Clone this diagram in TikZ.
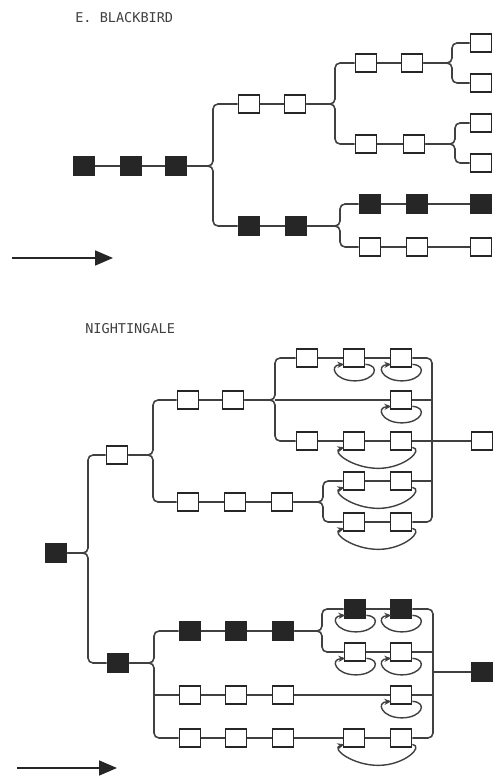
\documentclass[tikz,border=0pt]{standalone}
\usepackage{fontspec}
\newfontfamily\plotfont{DejaVu Sans Mono}
\usetikzlibrary{arrows.meta}
% repeat loops under one square, and back loops over two squares
\newcommand{\selfloop}[1]{\draw [loopline] ([yshift=2pt]#1.south east) .. controls +(16,1) and +(20,0) .. ++(-10.5,16.5) .. controls +(-20,0) and +(-16,1) .. ++(-10.5,-16.5);}
\newcommand{\backloop}[2]{\draw [loopline] ([yshift=2pt]#2.south east) .. controls +(12,2) and +(26,0) .. ++(-34,21) .. controls +(-26,0) and +(-14,4) .. ++(-34,-21);}

\begin{document}
\begin{tikzpicture}[
    % GLOBAL CFG
    x=0.02cm, y=-0.02cm,
    >=LaTeX,
    % Styles
    sq/.style={% For open squares
        rectangle,
        draw=black!85,
        line width=1pt,
        minimum width=0.42cm,
        minimum height=0.36cm,
        inner sep=0pt,
        fill=white,
    },
    sqfill/.style={% For filled squares
        sq,
        fill=black!85,
    },
    wire/.style={% Lines with rounded corners
        draw=black!75,
        line width=0.9pt,
        rounded corners=0.1cm,
    },
    loopline/.style={% Loops with small tips
        draw=black!75,
        line width=0.8pt,
        -{Stealth[length=4pt,width=3.5pt]},
    },
    timearrow/.style={
        draw=black!85,
        line width=1pt,
        -{Triangle[length=0.36cm,width=0.3cm]},
    },
    mylabel/.style={
        font=\plotfont\fontsize{7.7}{9}\selectfont,
        text=black!75,
        anchor=west,
        inner sep=0pt,
    },
    ]

    \useasboundingbox (0,0) rectangle (493,780);

    % E. BLACKBIRD
    \node[mylabel] (tb) at (75,18) {E. BLACKBIRD};

    % Draw squares named b#, c#, d#, ...
    \node[sqfill] (b1) at (84,166) {};
    \node[sqfill] (b2) at (131,166) {};
    \node[sqfill] (b3) at (176,166) {};

    \node[sq] (c1) at (249,104) {};
    \node[sq] (c2) at (295,104) {};
    \node[sq] (d1) at (366,63) {};
    \node[sq] (d2) at (412,63) {};
    \node[sq] (d3) at (481,43) {};
    \node[sq] (d4) at (481,83) {};
    \node[sq] (e1) at (366,144) {};
    \node[sq] (e2) at (414,144) {};
    \node[sq] (e3) at (481,123) {};
    \node[sq] (e4) at (481,163) {};

    \node[sqfill] (f1) at (249,226) {};
    \node[sqfill] (f2) at (296,226) {};
    \node[sqfill] (g1) at (370,204) {};
    \node[sqfill] (g2) at (417,204) {};
    \node[sqfill] (g3) at (481,204) {};
    \node[sq] (h1) at (370,247) {};
    \node[sq] (h2) at (417,247) {};
    \node[sq] (h3) at (481,247) {};

    % Branch points
    \coordinate (jb1) at (213,166);
    \coordinate (jb2) at (335,104);
    \coordinate (jb3) at (452,63);
    \coordinate (jb4) at (455,144);
    \coordinate (jb5) at (340,226);

    % Connect all
    \draw [wire] (b1) -- (b2) -- (b3);
    \draw [wire] (b3) -- (jb1) |- (c1);
    \draw [wire] (b3) -- (jb1) |- (f1);
    \draw [wire] (c1) -- (c2);
    \draw [wire] (c2) -- (jb2) |- (d1);
    \draw [wire] (c2) -- (jb2) |- (e1);
    \draw [wire] (d1) -- (d2);
    \draw [wire] (d2) -- (jb3) |- (d3);
    \draw [wire] (d2) -- (jb3) |- (d4);
    \draw [wire] (e1) -- (e2);
    \draw [wire] (e2) -- (jb4) |- (e3);
    \draw [wire] (e2) -- (jb4) |- (e4);
    \draw [wire] (f1) -- (f2);
    \draw [wire] (f2) -- (jb5) |- (g1);
    \draw [wire] (f2) -- (jb5) |- (h1);
    \draw [wire] (g1) -- (g2) -- (g3);
    \draw [wire] (h1) -- (h2) -- (h3);

    % Time arrow
    \coordinate (ta1) at (12,258);
    \coordinate (ta2) at (113,258);
    \draw [timearrow] (ta1) -- (ta2);

    % NIGHTINGALE
    \node[mylabel] (tn) at (85,329) {NIGHTINGALE};

    \node[sqfill] (n0) at (56,553) {};
    \node[sq] (n1) at (117,455) {};
    \node[sq] (nu1) at (188,400) {};
    \node[sq] (nu2) at (233,400) {};
    \node[sq] (nl1) at (188,502) {};
    \node[sq] (nl2) at (235,502) {};
    \node[sq] (nl3) at (282,502) {};

    \node[sq] (ra1) at (307,358) {};
    \node[sq] (ra2) at (354,358) {};
    \node[sq] (ra3) at (401,358) {};
    \node[sq] (rb1) at (401,400) {};
    \node[sq] (rc1) at (307,441) {};
    \node[sq] (rc2) at (354,441) {};
    \node[sq] (rc3) at (401,441) {};
    \node[sq] (rd1) at (354,481) {};
    \node[sq] (rd2) at (401,481) {};
    \node[sq] (re1) at (354,522) {};
    \node[sq] (re2) at (401,522) {};
    \node[sq] (nout1) at (482,441) {};

    \node[sqfill] (n2) at (118,663) {};
    \node[sqfill] (rf1) at (190,631) {};
    \node[sqfill] (rf2) at (236,631) {};
    \node[sqfill] (rf3) at (283,631) {};
    \node[sqfill] (rf11) at (355,609) {};
    \node[sqfill] (rf12) at (401,609) {};
    \node[sq] (rf21) at (355,652) {};
    \node[sq] (rf22) at (401,652) {};
    \node[sq] (rg1) at (190,695) {};
    \node[sq] (rg2) at (236,695) {};
    \node[sq] (rg3) at (283,695) {};
    \node[sq] (rg4) at (401,695) {};
    \node[sq] (rh1) at (190,738) {};
    \node[sq] (rh2) at (236,738) {};
    \node[sq] (rh3) at (283,738) {};
    \node[sq] (rh4) at (354,738) {};
    \node[sq] (rh5) at (401,738) {};
    \node[sqfill] (nout2) at (482,672) {};

    % Branch points and buses
    \coordinate (jn1) at (88,553);
    \coordinate (jn2) at (153,455);
    \coordinate (jn3) at (275,400);
    \coordinate (jn4) at (323,502);
    \coordinate (jn5) at (154,663);
    \coordinate (jn6) at (322,631);
    \coordinate (bus1) at (432,441);
    \coordinate (bus2) at (433,672);

    % Connect all
    \draw [wire] (n0) -- (jn1) |- (n1);
    \draw [wire] (n0) -- (jn1) |- (n2);
    \draw [wire] (n1) -- (jn2) |- (nu1);
    \draw [wire] (n1) -- (jn2) |- (nl1);
    \draw [wire] (nu1) -- (nu2);
    \draw [wire] (nu2) -- (jn3) |- (ra1);
    \draw [wire] (nu2) -- (jn3) |- (rc1);
    \draw [wire] (jn3) -- (rb1);
    \draw [wire] (nl1) -- (nl2) -- (nl3);
    \draw [wire] (nl3) -- (jn4) |- (rd1);
    \draw [wire] (nl3) -- (jn4) |- (re1);
    \draw [wire] (ra1) -- (ra2) -- (ra3);
    \draw [wire] (rc1) -- (rc2) -- (rc3);
    \draw [wire] (rd1) -- (rd2);
    \draw [wire] (re1) -- (re2);
    \draw [wire] (ra3) -| (bus1) |- (re2);
    \draw [wire] (rb1) -- (rb1 -| bus1);
    \draw [wire] (rd2) -- (rd2 -| bus1);
    \draw [wire] (rc3) -- (nout1);

    \draw [wire] (n2) -- (jn5) |- (rf1);
    \draw [wire] (n2) -- (jn5) |- (rh1);
    \draw [wire] (rg1 -| jn5) -- (rg1);
    \draw [wire] (rf1) -- (rf2) -- (rf3);
    \draw [wire] (rf3) -- (jn6) |- (rf11);
    \draw [wire] (rf3) -- (jn6) |- (rf21);
    \draw [wire] (rf11) -- (rf12);
    \draw [wire] (rf21) -- (rf22);
    \draw [wire] (rg1) -- (rg2) -- (rg3) -- (rg4);
    \draw [wire] (rh1) -- (rh2) -- (rh3) -- (rh4) -- (rh5);
    \draw [wire] (rf12) -| (bus2) |- (rh5);
    \draw [wire] (rf22) -- (rf22 -| bus2);
    \draw [wire] (rg4) -- (rg4 -| bus2);
    \draw [wire] (bus2) -- (nout2);

    % Loops
    \selfloop{ra2}
    \selfloop{ra3}
    \selfloop{rb1}
    \backloop{rc2}{rc3}
    \backloop{rd1}{rd2}
    \backloop{re1}{re2}
    \selfloop{rf11}
    \selfloop{rf12}
    \selfloop{rf21}
    \selfloop{rf22}
    \selfloop{rg4}
    \backloop{rh4}{rh5}

    % Time arrow
    \coordinate (tb1) at (17,768);
    \coordinate (tb2) at (117,768);
    \draw [timearrow] (tb1) -- (tb2);

\end{tikzpicture}
\end{document}
